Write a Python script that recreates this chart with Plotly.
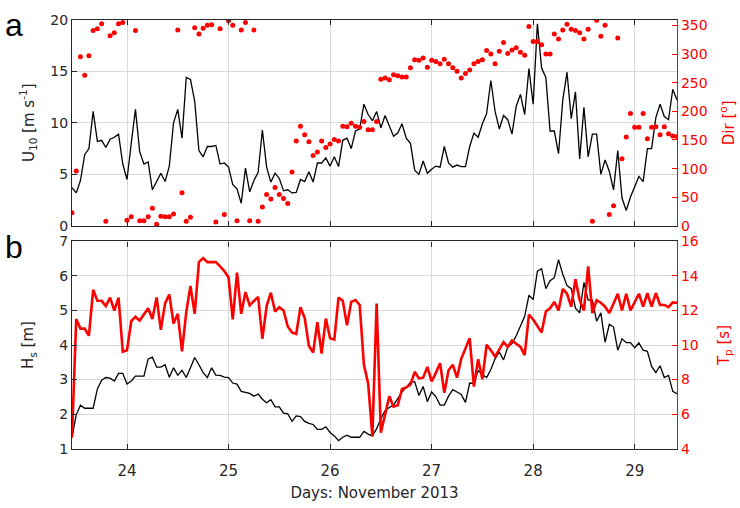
import numpy as np
import plotly.graph_objects as go

# hourly time stamps (days of November 2013)
start_day = 23 + 11/24
n_hours = 144
days = start_day + np.arange(n_hours) / 24.0

u10 = [3.7, 3.2, 4.4, 6.9, 7.5, 11.1, 8.2, 8.3, 7.6, 8.4, 8.6, 8.9, 6.0, 4.5, 8.0, 11.3, 7.2, 6.0, 6.2, 3.5,
       4.3, 5.1, 4.3, 5.8, 10.0, 11.3, 8.5, 14.4, 14.2, 12.1, 7.3, 6.7, 7.7, 7.7, 7.8, 6.0, 6.1, 5.7, 4.0, 3.6,
       2.2, 5.6, 3.3, 4.4, 5.2, 9.3, 5.7, 4.25, 5.1, 4.6, 3.4, 3.5, 3.2, 3.25, 4.5, 4.3, 5.25, 4.25, 6.1, 6.1,
       6.6, 5.8, 6.7, 5.75, 8.3, 8.5, 7.5, 9.2, 9.4, 11.8, 10.8, 10.2, 11.1, 9.5, 10.7, 9.7, 8.7, 9.0, 9.9, 8.5,
       8.0, 5.4, 5.0, 6.3, 5.1, 5.5, 5.8, 5.7, 7.7, 6.1, 5.7, 5.9, 5.75, 5.75, 7.7, 9.0, 8.6, 9.9, 10.9, 14.1,
       11.1, 9.4, 10.7, 10.3, 8.9, 11.6, 12.75, 10.8, 15.25, 11.8, 19.6, 15.3, 14.4, 9.2, 9.2, 7.0, 12.2, 14.9, 10.4, 13.0,
       6.5, 11.5, 6.7, 8.9, 8.9, 5.0, 6.4, 5.3, 3.5, 7.3, 2.7, 1.5, 2.8, 3.8, 4.8, 4.3, 7.5, 7.5, 10.5, 11.8,
       10.6, 10.3, 13.25, 12.2]

direction = [23, 96, 295, 263, 297, 341, 344, 353, 8, 332, 337, 353, 355, 10, 16, 341, 9, 9, 16, 31,
             3, 17, 16, 16, 21, 342, 58, 8, 15, 346, 335, 345, 350, 351, 7, 344, 20, 358, 350, 9,
             342, 355, 9, 342, 8, 33, 55, 47, 67, 55, 48, 39, 94, 148, 174, 159, 147, 123, 129, 148,
             137, 143, 151, 148, 174, 173, 179, 174, 172, 182, 168, 168, 182, 256, 258, 255, 264, 262, 260, 260,
             276, 290, 289, 293, 277, 289, 287, 283, 291, 283, 276, 270, 258, 266, 272, 283, 287, 290, 306, 300,
             283, 305, 320, 301, 307, 311, 303, 298, 348, 322, 322, 316, 300, 300, 335, 326, 342, 352, 343, 341,
             337, 326, 343, 8, 359, 331, 350, 20, 35, 328, 117, 155, 196, 172, 172, 196, 152, 172, 173, 159,
             173, 161, 157, 156]

hs = [1.33, 1.98, 2.26, 2.17, 2.17, 2.17, 2.73, 2.98, 3.06, 3.04, 2.96, 3.18, 3.18, 2.87, 2.96, 3.1, 3.1, 3.1, 3.6, 3.65,
      3.36, 3.36, 3.43, 3.07, 3.34, 3.13, 3.27, 3.06, 3.34, 3.64, 3.43, 3.2, 3.06, 3.34, 3.13, 3.12, 3.07, 3.06, 2.9, 2.87,
      2.66, 2.64, 2.6, 2.52, 2.58, 2.43, 2.33, 2.42, 2.21, 2.21, 2.03, 2.01, 1.79, 1.95, 1.93, 1.79, 1.73, 1.70, 1.56, 1.56,
      1.63, 1.47, 1.37, 1.23, 1.33, 1.39, 1.33, 1.33, 1.33, 1.50, 1.42, 1.37, 1.58, 1.87, 2.10, 2.19, 2.26, 2.45, 2.64, 2.78,
      2.92, 2.94, 2.54, 2.80, 2.36, 2.64, 2.51, 2.26, 2.26, 2.52, 2.71, 2.64, 2.57, 2.34, 2.90, 2.89, 3.26, 3.15, 3.06, 3.29,
      3.60, 3.80, 3.57, 3.94, 4.04, 4.27, 4.55, 4.83, 5.44, 5.32, 6.14, 6.21, 5.63, 5.86, 5.95, 6.47, 6.05, 5.72, 5.63, 5.07,
      4.93, 5.81, 5.30, 5.30, 4.69, 4.93, 4.08, 4.60, 4.52, 3.85, 4.18, 4.07, 4.07, 3.92, 4.06, 3.85, 3.82, 3.38, 3.20, 3.40,
      3.06, 3.12, 2.66, 2.59]

tp = [4.65, 11.51, 10.95, 10.95, 10.54, 13.2, 12.56, 12.56, 12.26, 12.75, 12.0, 12.75, 9.61, 9.70, 11.38, 11.63, 11.42, 11.76, 12.13, 11.51,
      12.75, 10.88, 12.41, 12.93, 11.25, 11.81, 9.64, 11.89, 13.42, 11.81, 14.80, 15.03, 14.80, 14.80, 14.80, 14.56, 14.28, 13.91, 11.48, 14.19,
      11.81, 13.07, 12.3, 12.55, 12.79, 10.36, 12.26, 13.03, 11.94, 12.19, 12.0, 11.07, 10.73, 10.64, 12.19, 11.57, 9.94, 9.57, 11.33, 9.51,
      11.53, 10.39, 10.32, 12.75, 12.56, 11.14, 12.50, 12.60, 12.32, 8.86, 7.78, 4.71, 12.41, 4.93, 6.06, 7.03, 6.43, 6.52, 7.46, 7.55,
      7.70, 8.45, 8.07, 8.11, 8.73, 7.89, 8.39, 8.95, 7.23, 8.54, 8.86, 8.11, 9.20, 9.79, 10.39, 7.59, 9.18, 8.02, 10.02, 9.7,
      9.33, 9.75, 10.17, 9.89, 10.26, 10.07, 9.89, 9.42, 11.76, 11.48, 11.10, 10.73, 11.94, 12.13, 12.50, 12.0, 13.25, 12.97, 12.22, 13.81,
      12.60, 12.0, 14.56, 11.85, 12.60, 12.45, 12.22, 11.85, 12.41, 12.97, 12.0, 12.97, 12.0, 12.50, 12.97, 12.22, 13.01, 12.22, 13.01, 12.32,
      12.32, 12.19, 12.47, 12.45]

x_ticks = [24, 25, 26, 27, 28, 29]

W, H = 740, 508
FONT = "DejaVu Sans, Liberation Sans, Arial, sans-serif"
DARK = "#262626"
RED = "#ff0000"
GRID = "#d9d9d9"
TICK_SIZE = 14
TITLE_SIZE = 15

def px_x(p):
    return p / W

def px_y(p):
    return 1 - p / H

xdom = [px_x(72), px_x(677)]
top_dom = [px_y(225), px_y(12)]
bot_dom = [px_y(455), px_y(241)]
xrange_ = [start_day, days[-1]]

fig = go.Figure()
fig.add_trace(go.Scatter(x=days, y=u10, mode="lines", line=dict(color="black", width=1.3),
                         xaxis="x", yaxis="y", showlegend=False))
fig.add_trace(go.Scatter(x=days, y=direction, mode="markers", marker=dict(color=RED, size=5),
                         xaxis="x", yaxis="y2", showlegend=False))
fig.add_trace(go.Scatter(x=days, y=hs, mode="lines", line=dict(color="black", width=1.3),
                         xaxis="x2", yaxis="y3", showlegend=False))
fig.add_trace(go.Scatter(x=days, y=tp, mode="lines", line=dict(color=RED, width=2.6),
                         xaxis="x2", yaxis="y4", showlegend=False))

common_x = dict(domain=xdom, range=xrange_, tickvals=x_ticks, showgrid=True, gridcolor=GRID,
                gridwidth=1, showline=True, linecolor=DARK, linewidth=1.2, mirror="ticks",
                ticks="inside", ticklen=5, tickcolor=DARK, zeroline=False,
                tickfont=dict(family=FONT, size=TICK_SIZE + 1, color=DARK))

fig.update_layout(
    width=W, height=H, margin=dict(l=0, r=0, t=0, b=0),
    paper_bgcolor="white", plot_bgcolor="white",
    font=dict(family=FONT, size=TICK_SIZE, color=DARK),
    xaxis=dict(anchor="y", showticklabels=False, **common_x),
    xaxis2=dict(anchor="y3", showticklabels=True, ticklabelstandoff=8,
                title=dict(text="Days: November 2013", font=dict(family=FONT, size=TITLE_SIZE, color=DARK), standoff=8),
                **common_x),
    yaxis=dict(domain=top_dom, anchor="x", range=[0, 20], dtick=5, showgrid=True, gridcolor=GRID,
               showline=True, linecolor=DARK, linewidth=1.2, ticks="inside", ticklen=5, tickcolor=DARK,
               zeroline=False, tickfont=dict(family=FONT, size=TICK_SIZE, color=DARK),
               title=dict(text="U<sub>10</sub> [m s<sup>-1</sup>]", font=dict(family=FONT, size=TITLE_SIZE, color=DARK), standoff=12)),
    yaxis2=dict(overlaying="y", side="right", anchor="x", range=[0, 360], dtick=50, showgrid=False,
                showline=True, linecolor=RED, linewidth=1.2, ticks="inside", ticklen=5, tickcolor=RED,
                zeroline=False, tickfont=dict(family=FONT, size=TICK_SIZE, color=RED),
                title=dict(text="Dir [<sup>o</sup>]", font=dict(family=FONT, size=TITLE_SIZE, color=RED), standoff=16)),
    yaxis3=dict(domain=bot_dom, anchor="x2", range=[1, 7], dtick=1, showgrid=True, gridcolor=GRID,
                showline=True, linecolor=DARK, linewidth=1.2, ticks="inside", ticklen=5, tickcolor=DARK,
                zeroline=False, tickfont=dict(family=FONT, size=TICK_SIZE, color=DARK),
                title=dict(text="H<sub>s</sub> [m]", font=dict(family=FONT, size=TITLE_SIZE, color=DARK), standoff=21)),
    yaxis4=dict(overlaying="y3", side="right", anchor="x2", range=[4, 16], dtick=2, showgrid=False,
                showline=True, linecolor=RED, linewidth=1.2, ticks="inside", ticklen=5, tickcolor=RED,
                zeroline=False, tickfont=dict(family=FONT, size=TICK_SIZE, color=RED),
                title=dict(text="T<sub>p</sub> [s]", font=dict(family=FONT, size=TITLE_SIZE, color=RED), standoff=20)),
    annotations=[
        dict(text="a", x=px_x(14), y=px_y(18), xref="paper", yref="paper", showarrow=False,
             font=dict(family="Liberation Sans, Arial, sans-serif", size=32, color="black"),
             xanchor="center", yanchor="middle"),
        dict(text="b", x=px_x(14), y=px_y(247), xref="paper", yref="paper", showarrow=False,
             font=dict(family="Liberation Sans, Arial, sans-serif", size=32, color="black"),
             xanchor="center", yanchor="middle"),
    ],
)

fig.write_html("out.html")
